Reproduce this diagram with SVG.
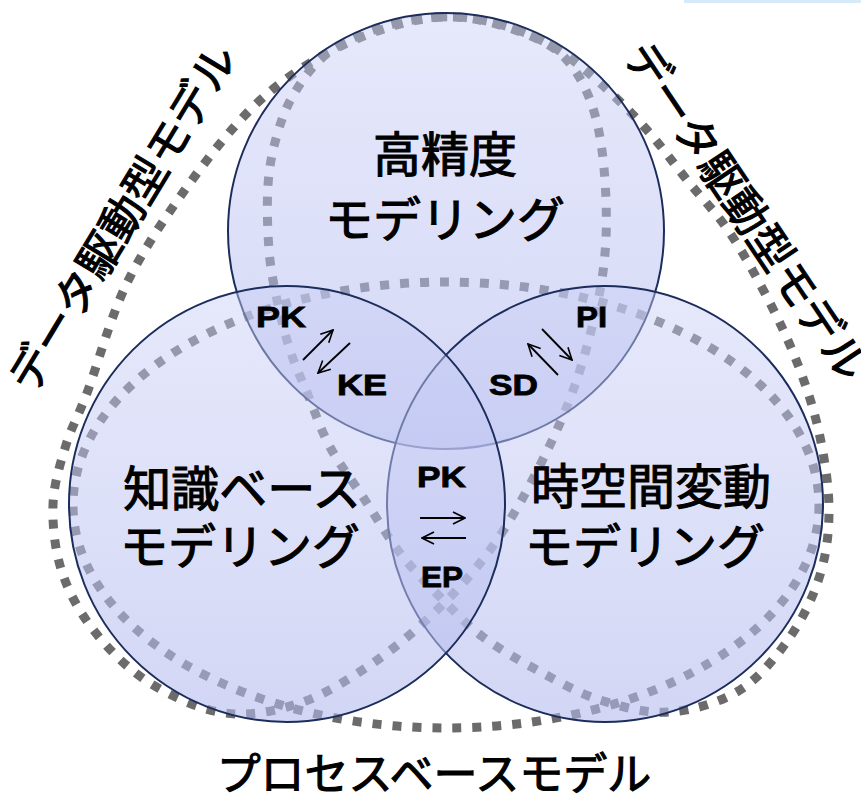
<svg xmlns="http://www.w3.org/2000/svg" width="861" height="796" viewBox="0 0 861 796">
<defs>
<linearGradient id="cg" x1="0" y1="0" x2="0" y2="1">
<stop offset="0" stop-color="#c8cef6" stop-opacity="0.45"/>
<stop offset="1" stop-color="#b4bbee" stop-opacity="0.6"/>
</linearGradient>
<marker id="ah" viewBox="0 0 14 14" refX="13" refY="7" markerWidth="14" markerHeight="14" markerUnits="userSpaceOnUse" orient="auto">
<path d="M1,1 L13,7 L1,13" fill="none" stroke="#000" stroke-width="1.6"/>
</marker>
<style>
.dot{fill:none;stroke:#6b6b6b;stroke-width:9;stroke-dasharray:9 11}
.circ{fill:url(#cg);stroke:#1c2d5c;stroke-width:2}
.jp{font-family:'Noto Sans CJK JP',sans-serif;fill:#000;stroke:#000;stroke-width:1.1}
.big{font-size:48px;text-anchor:middle}
.side{font-size:44px;text-anchor:middle}
.ab{font-family:'Liberation Sans',Arial,sans-serif;font-weight:bold;font-size:29px;fill:#000;stroke:#000;stroke-width:0.8}
.arr{stroke:#000;stroke-width:1.8;fill:none;marker-end:url(#ah)}
</style>
</defs>
<rect width="861" height="796" fill="#fff"/>
<rect x="684" y="0" width="177" height="3" fill="#d6eaf8"/>

<g id="model-regions">
<ellipse class="dot" cx="446" cy="505" rx="373" ry="223"/>
<path class="dot" d="M453,17 C473.8,17.5 496.3,23.2 515,30 C533.7,36.8 551.7,43.8 565,58 C578.3,72.2 588.2,91.3 595,115 C601.8,138.7 605,171.7 606,200 C607,228.3 606.2,254.2 601,285 C595.8,315.8 586,353.3 575,385 C564,416.7 549.2,447.5 535,475 C520.8,502.5 506.3,527.5 490,550 C473.7,572.5 456.5,591.2 437,610 C417.5,628.8 395.8,647.5 373,663 C350.2,678.5 324.7,694.7 300,703 C275.3,711.3 250,716.3 225,713 C200,709.7 171.7,696.5 150,683 C128.3,669.5 109.7,650.5 95,632 C80.3,613.5 69,593.2 62,572 C55,550.8 52.3,526.2 53,505 C53.7,483.8 60.3,463.7 66,445 C71.7,426.3 76.8,420 87,393 C97.2,366 110.3,317.3 127,283 C143.7,248.7 166,216.3 187,187 C208,157.7 230.8,128.7 253,107 C275.2,85.3 297.2,70.3 320,57 C342.8,43.7 367.8,33.7 390,27 C412.2,20.3 432.2,16.5 453,17 Z"/>
<path class="dot" d="M440,17 C420.8,17.8 398.7,22 380,28 C361.3,34 342.2,42.3 328,53 C313.8,63.7 303.5,78.3 295,92 C286.5,105.7 281.5,119.5 277,135 C272.5,150.5 269.3,165.8 268,185 C266.7,204.2 267.5,230.8 269,250 C270.5,269.2 273.5,283.3 277,300 C280.5,316.7 284.8,334.2 290,350 C295.2,365.8 301.3,378.8 308,395 C314.7,411.2 320.8,430 330,447 C339.2,464 351.3,479.3 363,497 C374.7,514.7 387.2,536.3 400,553 C412.8,569.7 426.2,583 440,597 C453.8,611 466.8,624.8 483,637 C499.2,649.2 517.5,659.5 537,670 C556.5,680.5 577.8,693 600,700 C622.2,707 646.7,713.7 670,712 C693.3,710.3 720,702.5 740,690 C760,677.5 776.7,656.2 790,637 C803.3,617.8 813.5,596.2 820,575 C826.5,553.8 829,533 829,510 C829,487 824.8,460.3 820,437 C815.2,413.7 808.3,392.3 800,370 C791.7,347.7 781.7,325.8 770,303 C758.3,280.2 743.8,253.5 730,233 C716.2,212.5 700.8,197.2 687,180 C673.2,162.8 661.5,146.2 647,130 C632.5,113.8 616.2,97.2 600,83 C583.8,68.8 567.5,55 550,45 C532.5,35 513.3,27.7 495,23 C476.7,18.3 459.2,16.2 440,17 Z"/>
<text class="jp side" transform="translate(136,226) rotate(-58.8)">データ駆動型モデル</text>
<text class="jp side" transform="translate(733,220) rotate(56.1)">データ駆動型モデル</text>
<text class="jp side" x="434" y="790">プロセスベースモデル</text>
</g>

<g id="node-high-precision">
<circle class="circ" cx="446" cy="231" r="218"/>
<text class="jp big" x="445" y="172">高精度</text>
<text class="jp big" x="445" y="237">モデリング</text>
</g>

<g id="node-spatiotemporal">
<circle class="circ" cx="605" cy="504" r="218"/>
<text class="jp big" x="651" y="504">時空間変動</text>
<text class="jp big" x="645" y="564">モデリング</text>
</g>

<g id="node-knowledge">
<circle class="circ" cx="287" cy="504" r="218"/>
<text class="jp big" x="242" y="506">知識ベース</text>
<text class="jp big" x="240" y="564">モデリング</text>
</g>

<g id="lens-pk-ke">
<text class="ab" x="256" y="327" textLength="50" lengthAdjust="spacingAndGlyphs">PK</text>
<text class="ab" x="337" y="395" textLength="50" lengthAdjust="spacingAndGlyphs">KE</text>
</g>
<g id="lens-pi-sd">
<text class="ab" x="576" y="327" textLength="31" lengthAdjust="spacingAndGlyphs">PI</text>
<text class="ab" x="489" y="395" textLength="49" lengthAdjust="spacingAndGlyphs">SD</text>
</g>
<g id="lens-pk-ep">
<text class="ab" x="417" y="487" textLength="49" lengthAdjust="spacingAndGlyphs">PK</text>
<text class="ab" x="421" y="587" textLength="42" lengthAdjust="spacingAndGlyphs">EP</text>
</g>

<g id="connectors">
<line class="arr" x1="303" y1="360" x2="333" y2="330"/>
<line class="arr" x1="350" y1="343" x2="318" y2="373"/>
<line class="arr" x1="542" y1="329" x2="572" y2="360"/>
<line class="arr" x1="558" y1="375" x2="528" y2="344"/>
<line class="arr" x1="420" y1="518" x2="465" y2="518"/>
<line class="arr" x1="466" y1="538" x2="422" y2="538"/>
</g>
</svg>
